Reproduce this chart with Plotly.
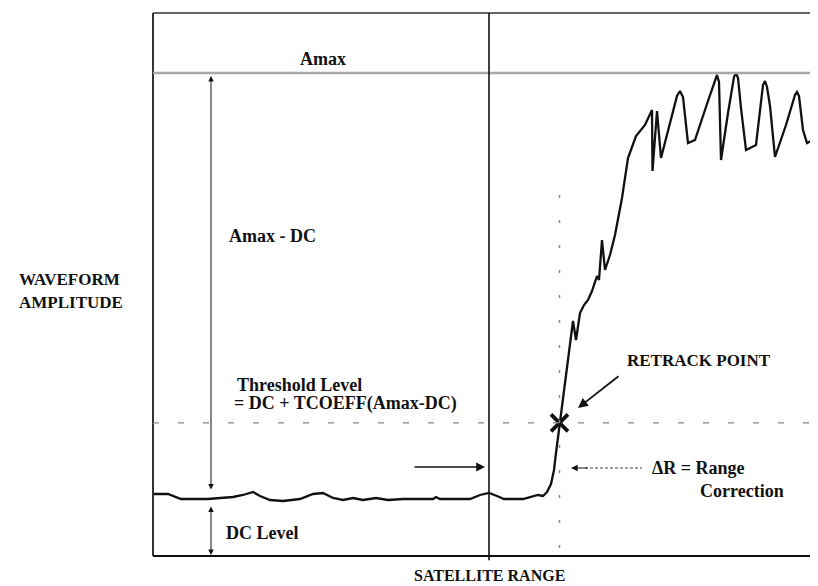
import plotly.graph_objects as go

# ---- data (range gate units, amplitude units) ----
range_gate = [0, 15, 28, 55, 80, 90, 100, 107, 117, 130, 147, 160, 170, 180, 190, 200, 210, 223, 235, 250,
              280, 283, 287, 317, 327, 336, 344, 351, 370, 379, 385, 390, 394, 398, 401, 403, 405, 406.5,
              409, 412, 415, 418, 420, 423, 427, 431, 435, 439, 442, 444, 446, 449, 452, 457, 462, 469,
              475, 483, 492, 499, 499.5, 504, 508, 517, 524, 527, 530, 535, 542, 555, 562, 564, 566, 568,
              575, 581, 583, 585, 588, 593, 603, 610, 612, 614, 617, 622, 633, 642, 644, 646, 650, 654,
              658, 663, 673]
amplitude = [62, 62, 57, 57, 59, 61, 64, 60, 56, 55, 57, 62, 63, 58, 56, 58, 56, 58, 56, 57,
             57, 59, 57, 57, 61, 63, 60, 57, 57, 59, 61, 60, 64, 72, 86, 103, 118, 133,
             150, 171, 193, 218, 235, 216, 243, 251, 256, 265, 275, 280, 276, 316, 286, 301, 321, 358,
             398, 420, 431, 446, 385, 445, 398, 433, 460, 465, 459, 413, 416, 455, 477, 481, 474, 396,
             443, 479, 483, 478, 448, 406, 411, 471, 475, 469, 450, 399, 431, 461, 464, 460, 426, 413,
             415, 394, 401]

amax = 483
dc = 57
tcoeff = 0.1788
threshold = dc + tcoeff * (amax - dc)
retrack_gate = 406.5
track_gate = 336

x_range = [0, 673]
y_range = [0, 543]

FONT = "Liberation Serif"
INK = "#111111"
fs = 18

fig = go.Figure()

fig.add_trace(go.Scatter(x=range_gate, y=amplitude, mode="lines",
                         line=dict(color=INK, width=2.3), hoverinfo="skip", showlegend=False))

fig.add_trace(go.Scatter(x=[retrack_gate], y=[threshold], mode="markers",
                         marker=dict(symbol="x-thin", size=17, line=dict(color=INK, width=3.8)),
                         hoverinfo="skip", showlegend=False))

shapes = []
# frame
shapes.append(dict(type="line", xref="paper", yref="paper", x0=0, x1=1, y0=1, y1=1,
                   line=dict(color="#666666", width=2)))
shapes.append(dict(type="line", xref="paper", yref="paper", x0=0, x1=0, y0=0, y1=1,
                   line=dict(color="#333333", width=2)))
shapes.append(dict(type="line", xref="paper", yref="paper", x0=0, x1=1, y0=0, y1=0,
                   line=dict(color=INK, width=2)))
# Amax line
shapes.append(dict(type="line", xref="paper", yref="y", x0=0, x1=1, y0=amax, y1=amax,
                   line=dict(color="#a8a8a8", width=2.5)))
# threshold dashed line
shapes.append(dict(type="line", xref="paper", yref="y", x0=0, x1=1, y0=threshold, y1=threshold,
                   line=dict(color="#888888", width=1.3, dash="6px,19px")))
# tracking gate vertical line
shapes.append(dict(type="line", xref="x", yref="paper", x0=track_gate, x1=track_gate, y0=-0.008, y1=1,
                   line=dict(color=INK, width=1.6)))
# retrack vertical dotted line
shapes.append(dict(type="line", xref="x", yref="y", x0=retrack_gate, x1=retrack_gate, y0=8, y1=373,
                   line=dict(color="#888888", width=1.5, dash="3px,22px")))
# dashed part of range correction arrow
shapes.append(dict(type="line", xref="x", yref="y", x0=432, x1=489, y0=88, y1=88,
                   line=dict(color="#444444", width=1, dash="3px,2px")))

annotations = []
def txt(x, y, s, xanchor="left", xref="x", yref="y", size=fs):
    annotations.append(dict(x=x, y=y, xref=xref, yref=yref, text="<b>" + s + "</b>", showarrow=False,
                            xanchor=xanchor, yanchor="middle", borderpad=0,
                            font=dict(family=FONT, size=size, color=INK)))

def arrow(x, y, ax, ay, both=False, width=1.0, size=1.1):
    annotations.append(dict(x=x, y=y, ax=ax, ay=ay, xref="x", yref="y", axref="x", ayref="y",
                            text="", showarrow=True, arrowhead=2, startarrowhead=2,
                            arrowside="end+start" if both else "end",
                            arrowsize=size, startarrowsize=size, arrowwidth=width,
                            arrowcolor=INK, standoff=0, startstandoff=0))

txt(170, 497, "Amax", xanchor="center")
txt(75, 320, "Amax - DC")
txt(83, 171, "Threshold Level")
txt(80, 153, "= DC + TCOEFF(Amax-DC)")
txt(72, 23, "DC Level")
txt(473, 196, "RETRACK POINT", size=17)
txt(498, 88, "\u0394R = Range")
txt(546, 65, "Correction")

# arrows
arrow(58, 480, 58, 65, both=True)
arrow(58, 1, 58, 51, both=True)
arrow(332, 89, 260, 89, width=1.6)
arrow(418, 88, 436, 88, width=1.2)
arrow(425, 148, 467, 181, width=1.8)

# axis titles as text
txt(-0.2006, 0.510, "WAVEFORM", xref="paper", yref="paper", size=17)
txt(-0.2006, 0.466, "AMPLITUDE", xref="paper", yref="paper", size=17)
txt(track_gate, -0.036, "SATELLITE RANGE", xanchor="center", yref="paper", size=16)

fig.update_layout(
    width=818, height=586,
    margin=dict(l=145, r=0, t=5, b=38),
    paper_bgcolor="white", plot_bgcolor="white",
    xaxis=dict(range=x_range, visible=False, fixedrange=True),
    yaxis=dict(range=y_range, visible=False, fixedrange=True),
    shapes=shapes, annotations=annotations, showlegend=False,
)

fig.write_html("out.html")
